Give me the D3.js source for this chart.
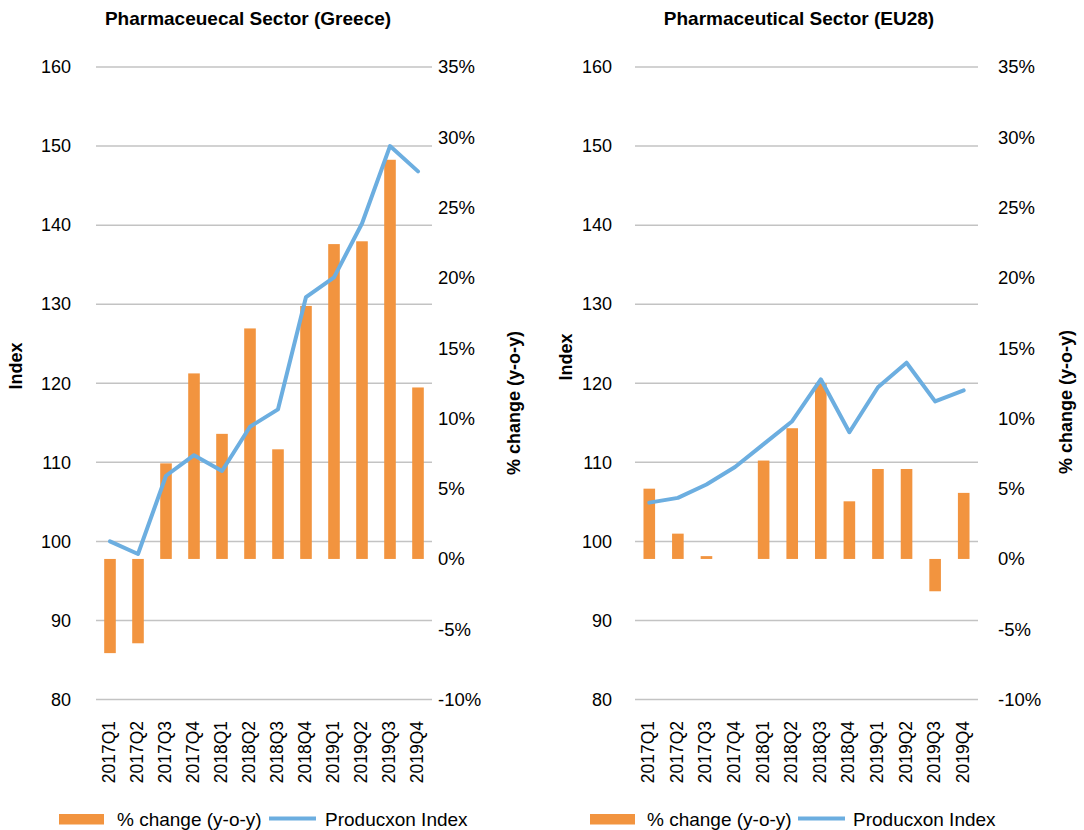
<!DOCTYPE html>
<html>
<head>
<meta charset="utf-8">
<script src="https://cdn.jsdelivr.net/npm/d3@7"></script>
<style>
  body { margin: 0; background: #fff; }
  text { font-family: "Liberation Sans", Arial, Helvetica, sans-serif; fill: #000; }
</style>
</head>
<body>
<svg id="chart" width="1084" height="830"></svg>
<script>
// Quarterly production data, pharmaceutical sector
const quarters = ["2017Q1", "2017Q2", "2017Q3", "2017Q4", "2018Q1", "2018Q2",
                  "2018Q3", "2018Q4", "2019Q1", "2019Q2", "2019Q3", "2019Q4"];

// Greece: production index and year-on-year % change
const greeceIndex  = [100.0, 98.4, 108.3, 110.9, 108.9, 114.5, 116.7, 130.9, 133.4, 140.2, 150.0, 146.8];
const greeceChange = [-6.7, -6.0, 6.8, 13.2, 8.9, 16.4, 7.8, 18.0, 22.4, 22.6, 28.4, 12.2];

// EU28: production index and year-on-year % change
const euIndex  = [104.9, 105.5, 107.2, 109.4, 112.3, 115.2, 120.5, 113.8, 119.5, 122.6, 117.7, 119.1];
const euChange = [5.0, 1.8, 0.2, 0.0, 7.0, 9.3, 12.5, 4.1, 6.4, 6.4, -2.3, 4.7];

// Axis ticks
const indexTicks  = [80, 90, 100, 110, 120, 130, 140, 150, 160];
const changeTicks = [-10, -5, 0, 5, 10, 15, 20, 25, 30, 35];

const legendBarLabel  = "% change (y-o-y)";
const legendLineLabel = "Producxon Index";

const BAR_COLOR  = "#f2943f";
const LINE_COLOR = "#6caee0";
const GRID_COLOR = "#c3c3c3";

const svg = d3.select("#chart");

const panels = [
  {
    title: "Pharmaceuecal Sector (Greece)", index: greeceIndex, change: greeceChange,
    x0: 96, x1: 432, titleX: 248, leftTickX: 71, rightTickX: 438,
    indexTitle: [15.5, 366], changeTitle: [514, 403],
    legRect: 59, legText1: 117, legLine: 269, legText2: 325
  },
  {
    title: "Pharmaceutical Sector (EU28)", index: euIndex, change: euChange,
    x0: 635, x1: 978, titleX: 799, leftTickX: 612, rightTickX: 998,
    indexTitle: [566, 357], changeTitle: [1066, 402],
    legRect: 590, legText1: 647, legLine: 798, legText2: 853
  }
];

const yTop = 67, yBottom = 699.5;

panels.forEach(p => {
  const g = svg.append("g");

  const x = d3.scaleBand().domain(quarters).range([p.x0, p.x1]).paddingInner(0).paddingOuter(0);
  const yIdx = d3.scaleLinear().domain([80, 160]).range([yBottom, yTop]);
  const yPct = d3.scaleLinear().domain([-10, 35]).range([yBottom, yTop]);

  // Title
  g.append("text")
    .attr("x", p.titleX).attr("y", 25)
    .attr("text-anchor", "middle")
    .attr("font-weight", "bold")
    .attr("font-size", 19)
    .text(p.title);

  // Gridlines
  g.selectAll("line.grid").data(indexTicks).join("line")
    .attr("class", "grid")
    .attr("x1", p.x0).attr("x2", p.x1)
    .attr("y1", d => yIdx(d)).attr("y2", d => yIdx(d))
    .attr("stroke", GRID_COLOR).attr("stroke-width", 1.5);

  // Left axis (index)
  const leftAxis = d3.axisLeft(yIdx).tickValues(indexTicks).tickSize(0).tickPadding(0);
  const la = g.append("g").attr("transform", `translate(${p.leftTickX},0)`).call(leftAxis);
  la.select(".domain").remove();
  la.selectAll("text").attr("font-size", 18).attr("font-family", null).attr("fill", "#000");

  // Right axis (% change)
  const rightAxis = d3.axisRight(yPct).tickValues(changeTicks).tickSize(0).tickPadding(0)
    .tickFormat(d => d + "%");
  const ra = g.append("g").attr("transform", `translate(${p.rightTickX},0)`).call(rightAxis);
  ra.select(".domain").remove();
  ra.selectAll("text").attr("font-size", 18.5).attr("font-family", null).attr("fill", "#000");

  // Bars: % change
  const barW = 11.6;
  g.selectAll("rect.bar").data(p.change.map((v, i) => ({ q: quarters[i], v })))
    .join("rect")
    .attr("class", "bar")
    .attr("x", d => x(d.q) + x.bandwidth() / 2 - barW / 2)
    .attr("width", barW)
    .attr("y", d => yPct(Math.max(0, d.v)))
    .attr("height", d => Math.abs(yPct(d.v) - yPct(0)))
    .attr("fill", BAR_COLOR);

  // Line: production index
  const line = d3.line()
    .x((d, i) => x(quarters[i]) + x.bandwidth() / 2)
    .y(d => yIdx(d));
  g.append("path")
    .datum(p.index)
    .attr("d", line)
    .attr("fill", "none")
    .attr("stroke", LINE_COLOR)
    .attr("stroke-width", 4)
    .attr("stroke-linejoin", "round")
    .attr("stroke-linecap", "round");

  // Category labels, rotated
  g.selectAll("text.cat").data(quarters).join("text")
    .attr("class", "cat")
    .attr("transform", d => `translate(${x(d) + x.bandwidth() / 2 + 5},721) rotate(-90)`)
    .attr("text-anchor", "end")
    .attr("font-size", 17.5)
    .text(d => d);

  // Axis titles
  g.append("text")
    .attr("transform", `translate(${p.indexTitle[0] + 6},${p.indexTitle[1]}) rotate(-90)`)
    .attr("text-anchor", "middle")
    .attr("font-weight", "bold")
    .attr("font-size", 18)
    .text("Index");
  g.append("text")
    .attr("transform", `translate(${p.changeTitle[0] + 6},${p.changeTitle[1]}) rotate(-90)`)
    .attr("text-anchor", "middle")
    .attr("font-weight", "bold")
    .attr("font-size", 18)
    .text("% change (y-o-y)");

  // Legend
  const lg = g.append("g");
  lg.append("rect")
    .attr("x", p.legRect).attr("y", 814).attr("width", 45).attr("height", 10.5)
    .attr("fill", BAR_COLOR);
  lg.append("text")
    .attr("x", p.legText1).attr("y", 825.5)
    .attr("font-size", 19)
    .text(legendBarLabel);
  lg.append("line")
    .attr("x1", p.legLine).attr("x2", p.legLine + 47)
    .attr("y1", 818.5).attr("y2", 818.5)
    .attr("stroke", LINE_COLOR).attr("stroke-width", 4);
  lg.append("text")
    .attr("x", p.legText2).attr("y", 825.5)
    .attr("font-size", 19)
    .text(legendLineLabel);
});
</script>
</body>
</html>
